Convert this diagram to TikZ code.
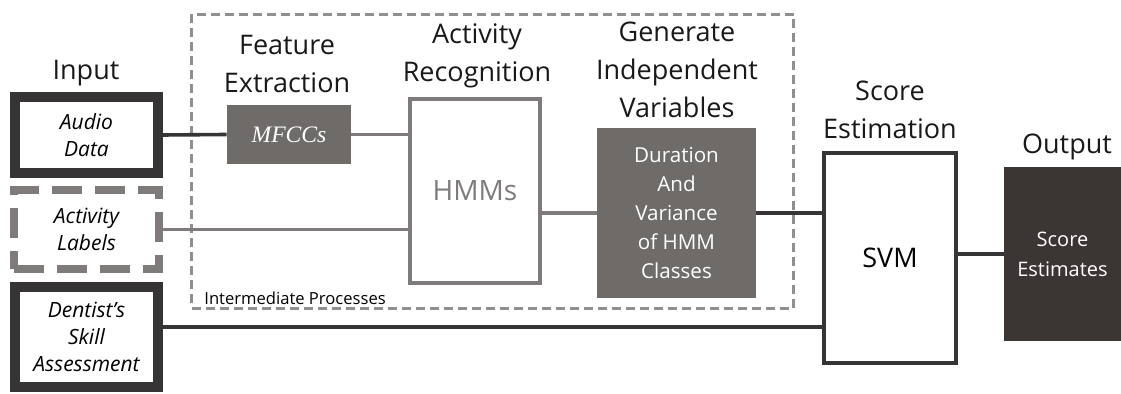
\documentclass[tikz,border=0pt]{standalone}
\usepackage{fontspec}
\setmainfont{Open Sans}
\newfontfamily\mfcfont{Liberation Serif}
\definecolor{darkline}{HTML}{363434}
\definecolor{midgray}{HTML}{7E7B7A}
\definecolor{boxgray}{HTML}{6F6B69}
\definecolor{outfill}{HTML}{3B3634}
\tikzset{
	heading/.style={align=center,font=\fontsize{13.5}{19}\selectfont,text=black!90},
	inbox/.style={draw=darkline,line width=5pt,inner sep=0pt,align=center,font=\fontsize{10.5}{13.5}\selectfont\itshape},
	graybox/.style={fill=boxgray,inner sep=0pt,align=center,text=white},
	darkwire/.style={draw=darkline,line width=1.8pt},
	graywire/.style={draw=midgray,line width=1.8pt}
}
\begin{document}
\begin{tikzpicture}[x=0.5pt,y=-0.5pt]
	\useasboundingbox (0,0) rectangle (1121,394);
	% intermediate processes frame
	\node (mid) [draw=midgray!85,line width=1.5pt,dash pattern=on 4.5pt off 2.5pt,minimum width=301pt,minimum height=147pt] at (492.5,161.5) {};
	\node (midlbl) [anchor=south west,inner sep=0pt,font=\fontsize{8.3}{10}\selectfont] at (204,305) {Intermediate Processes};
	% inputs
	\node (aud) [inbox,minimum width=71.5pt,minimum height=38pt] at (86.5,135) {Audio\\Data};
	\node (lab) [inbox,draw=midgray,line width=4pt,dash pattern=on 15pt off 6.5pt,minimum width=72.5pt,minimum height=39.5pt] at (86.5,229.5) {Activity\\Labels};
	\node (den) [inbox,minimum width=71.5pt,minimum height=50pt] at (86.5,337) {Dentist's\\Skill\\Assessment};
	% processing boxes
	\node (mfc) [graybox,minimum width=62pt,minimum height=29.5pt,font=\mfcfont\itshape\fontsize{11.8}{13}\selectfont] at (289,134.5) {MFCCs};
	\node (hmm) [draw=midgray,line width=2pt,minimum width=65pt,minimum height=92pt,text=midgray,font=\fontsize{14}{16}\selectfont] at (475,191) {HMMs};
	\node (gen) [graybox,minimum width=79.5pt,minimum height=85pt,font=\fontsize{10.3}{14.5}\selectfont] at (676.5,213) {Duration\\And\\Variance\\of HMM\\Classes};
	\node (svm) [draw=darkline,line width=2pt,minimum width=66pt,minimum height=105pt,font=\fontsize{13.5}{16}\selectfont] at (890,258) {SVM};
	\node (out) [fill=outfill,minimum width=58.5pt,minimum height=87pt,inner sep=0pt,align=center,text=white,font=\fontsize{10}{15}\selectfont] at (1062.5,254) {Score\\Estimates};
	% headings
	\node (hin) [heading] at (86,73) {Input};
	\node (hfe) [heading] at (287,64) {Feature\\Extraction};
	\node (har) [heading] at (477,56) {Activity\\Recognition};
	\node (hgv) [heading] at (677,70) {Generate\\Independent\\Variables};
	\node (hse) [heading] at (890,110) {Score\\Estimation};
	\node (hout) [heading] at (1067,147) {Output};
	% connections
	\draw [darkwire] (aud.east) -- (mfc.west);
	\draw [graywire] (mfc.east) -- (mfc.east -| hmm.west);
	\draw [graywire] (lab.east) -- (lab.east -| hmm.west);
	\draw [graywire] (gen.west -| hmm.east) -- (gen.west);
	\draw [darkwire] (gen.east) -- (gen.east -| svm.west);
	\draw [darkwire] ([yshift=5pt]den.east) -- ([yshift=5pt]den.east -| svm.west);
	\draw [darkwire] (out.west -| svm.east) -- (out.west);
\end{tikzpicture}
\end{document}
